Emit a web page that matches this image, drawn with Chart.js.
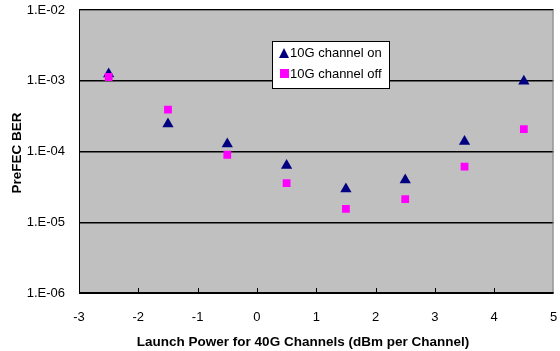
<!DOCTYPE html>
<html>
<head>
<meta charset="utf-8">
<script src="https://cdn.jsdelivr.net/npm/chart.js@4"></script>
<style>
  html, body { margin: 0; padding: 0; background: #fff; }
  #wrap { width: 560px; height: 351px; }
</style>
</head>
<body>
<div id="wrap"><canvas id="berChart" width="560" height="351"></canvas></div>
<script>
// --- DATA ---
const launchPower = [-2.5, -1.5, -0.5, 0.5, 1.5, 2.5, 3.5, 4.5];
const berOn  = [1.25e-3, 2.45e-4, 1.28e-4, 6.35e-5, 2.95e-5, 3.95e-5, 1.38e-4, 9.8e-4];
const berOff = [1.13e-3, 3.9e-4, 9.0e-5, 3.58e-5, 1.54e-5, 2.13e-5, 6.1e-5, 2.07e-4];
const yTicks = [1e-6, 1e-5, 1e-4, 1e-3, 1e-2];
const yTickLabels = ['1.E-06', '1.E-05', '1.E-04', '1.E-03', '1.E-02'];
const seriesNames = ['10G channel on', '10G channel off'];
const xTitle = 'Launch Power for 40G Channels (dBm per Channel)';
const yTitle = 'PreFEC BER';

const FONT = 'Liberation Sans, Arial, sans-serif';

function toPoints(xs, ys) { return xs.map((x, i) => ({ x: x, y: ys[i] })); }

// --- PLOT AREA BACKGROUND, FRAME, INNER TICKS, TITLES, LEGEND ---
const plotDecor = {
  id: 'plotDecor',
  beforeDraw(chart) {
    const a = chart.chartArea, ctx = chart.ctx;
    ctx.save();
    ctx.fillStyle = '#c0c0c0';
    ctx.fillRect(a.left, a.top, a.right - a.left, a.bottom - a.top);
    ctx.restore();
  },
  afterDatasetsDraw(chart) {
    const a = chart.chartArea, ctx = chart.ctx, xs = chart.scales.x;
    ctx.save();
    // frame: gray top/right, black left/bottom
    ctx.strokeStyle = '#808080'; ctx.lineWidth = 1;
    ctx.beginPath();
    ctx.moveTo(a.left, a.top + 0.5); ctx.lineTo(a.right - 0.5, a.top + 0.5); ctx.lineTo(a.right - 0.5, a.bottom);
    ctx.stroke();
    ctx.strokeStyle = '#000'; ctx.lineWidth = 1;
    ctx.beginPath();
    ctx.moveTo(a.left + 0.5, a.top); ctx.lineTo(a.left + 0.5, a.bottom);
    ctx.stroke();
    ctx.lineWidth = 2;
    ctx.beginPath();
    ctx.moveTo(a.left, a.bottom); ctx.lineTo(a.right, a.bottom);
    ctx.stroke();
    // inward tick marks on x axis
    ctx.lineWidth = 1;
    for (let v = -2; v <= 4; v++) {
      const px = Math.round(xs.getPixelForValue(v)) + 0.5;
      ctx.beginPath(); ctx.moveTo(px, a.bottom); ctx.lineTo(px, a.bottom - 5); ctx.stroke();
    }
    // axis titles
    ctx.fillStyle = '#000';
    ctx.font = 'bold 13.5px ' + FONT;
    ctx.textAlign = 'center'; ctx.textBaseline = 'middle';
    ctx.fillText(xTitle, 303, 342);
    ctx.save();
    ctx.translate(17, 153);
    ctx.rotate(-Math.PI / 2);
    ctx.fillText(yTitle, 0, 0);
    ctx.restore();
    // legend box
    const lx = 272, ly = 41, lw = 117, lh = 47;
    ctx.fillStyle = '#fff';
    ctx.fillRect(lx, ly, lw, lh);
    ctx.strokeStyle = '#000'; ctx.lineWidth = 1;
    ctx.strokeRect(lx + 0.5, ly + 0.5, lw, lh);
    ctx.fillStyle = '#000080';
    ctx.beginPath();
    ctx.moveTo(284, 48); ctx.lineTo(289, 58); ctx.lineTo(279, 58); ctx.closePath(); ctx.fill();
    ctx.fillStyle = '#ff00ff';
    ctx.fillRect(280, 69, 9, 9);
    ctx.fillStyle = '#000';
    ctx.font = '13px ' + FONT;
    ctx.textAlign = 'left';
    ctx.fillText(seriesNames[0], 290, 53);
    ctx.fillText(seriesNames[1], 290, 74);
    ctx.restore();
  }
};

new Chart(document.getElementById('berChart'), {
  type: 'scatter',
  data: {
    datasets: [
      { label: seriesNames[1], data: toPoints(launchPower, berOff), pointStyle: 'rect', pointRadius: 5.5,
        backgroundColor: '#ff00ff', borderColor: '#ff00ff', borderWidth: 0 },
      { label: seriesNames[0], data: toPoints(launchPower, berOn), pointStyle: 'triangle', pointRadius: 6.5,
        backgroundColor: '#000080', borderColor: '#000080', borderWidth: 0 }
    ]
  },
  options: {
    responsive: false,
    animation: false,
    layout: { padding: { left: 0, top: 10, right: 5, bottom: 0 } },
    plugins: { legend: { display: false }, tooltip: { enabled: false } },
    scales: {
      x: {
        type: 'linear', min: -3, max: 5,
        ticks: { stepSize: 1, color: '#000', font: { family: FONT, size: 13 }, padding: 17 },
        grid: { display: false, drawTicks: false },
        border: { display: false },
        afterFit(s) { s.height = 58; s.paddingLeft = 0; s.paddingRight = 0; }
      },
      y: {
        type: 'logarithmic', min: 1e-6, max: 1e-2,
        afterBuildTicks(s) { s.ticks = yTicks.map(v => ({ value: v })); },
        ticks: {
          color: '#000', font: { family: FONT, size: 13 }, padding: 14,
          callback(v) { const i = yTicks.indexOf(v); return i >= 0 ? yTickLabels[i] : ''; }
        },
        grid: { color: '#000', lineWidth: 1.5, drawTicks: false },
        border: { display: false },
        afterFit(s) { s.width = 79; s.paddingTop = 0; s.paddingBottom = 0; }
      }
    }
  },
  plugins: [plotDecor]
});
</script>
</body>
</html>
